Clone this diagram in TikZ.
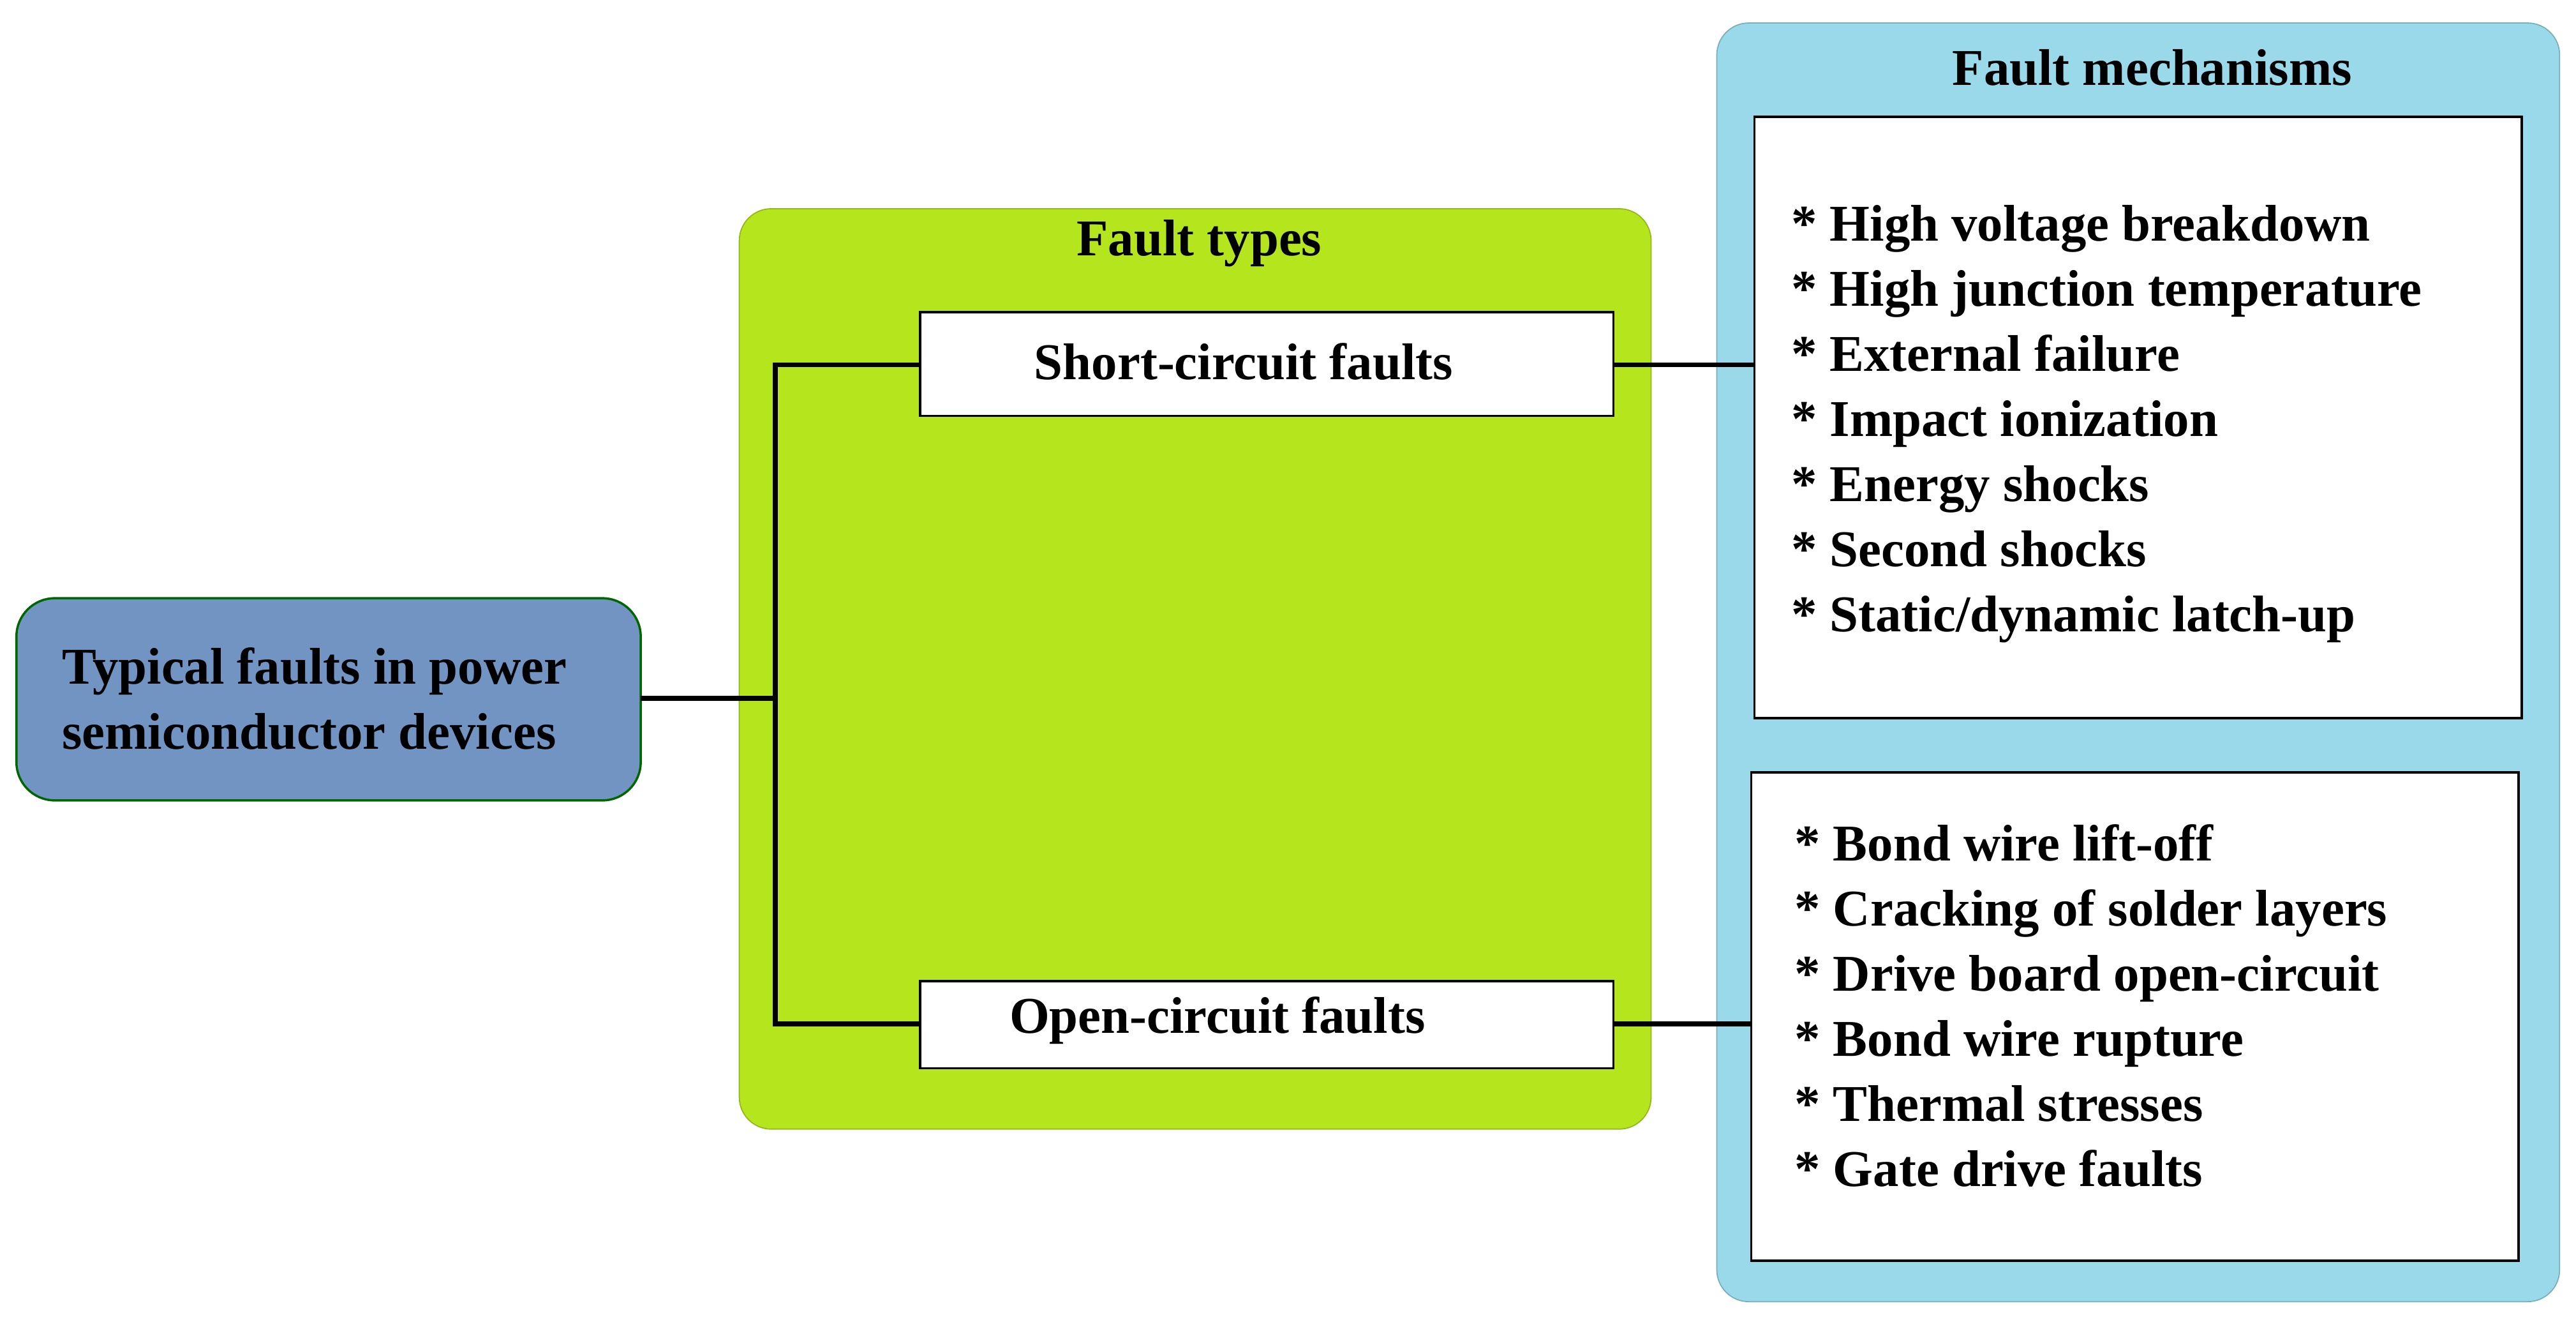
\documentclass[tikz,border=0pt]{standalone}
\usepackage{fontspec}
\setmainfont{Liberation Serif}
\usetikzlibrary{positioning}
\definecolor{rootblue}{HTML}{7194C2}
\definecolor{typegreen}{HTML}{B5E61D}
\definecolor{mechblue}{HTML}{99D9EA}
\begin{document}
\begin{tikzpicture}[x=0.02575cm,y=-0.02575cm,
  font=\fontsize{23}{29}\selectfont\bfseries,
  panel/.style={rounded corners=0.5cm, draw=#1!80!black, fill=#1, line width=0.5pt},
  fbox/.style={draw=black, fill=white, line width=1pt},
  wire/.style={line width=2.2pt}]
  \useasboundingbox (0,0) rectangle (1568,804);
  % panels
  \draw[panel=typegreen] (450,127) rectangle (1005,687);
  \draw[panel=mechblue] (1045,14) rectangle (1558,792);
  \node at (730,148) {Fault types};
  \node at (1310,41) {Fault mechanisms};
  % root
  \draw[rounded corners=0.6cm, draw=green!40!black, fill=rootblue, line width=1pt] (10,364) rectangle (390,487);
  \node[anchor=west, align=left] (root) at (33,425) {Typical faults in power\\semiconductor devices};
  \coordinate (rootr) at (390,425);
  % fault types
  \draw[fbox] (560,190) rectangle (982,253);
  \draw[fbox] (560,597) rectangle (982,650);
  \node (sc) at (757,220) {Short-circuit faults};
  \node (oc) at (741,621) {Open-circuit faults};
  \coordinate (scl) at (560,222); \coordinate (scr) at (982,222);
  \coordinate (ocl) at (560,623); \coordinate (ocr) at (982,623);
  % mechanisms
  \draw[fbox] (1068,71) rectangle (1535,437);
  \draw[fbox] (1066,470) rectangle (1533,767);
  \coordinate (mupl) at (1068,222);
  \coordinate (mlol) at (1066,623);
  \node[anchor=west, align=left, inner sep=0pt] (mup) at (1090,258) {%
    * High voltage breakdown\\* High junction temperature\\* External failure\\%
    * Impact ionization\\* Energy shocks\\* Second shocks\\* Static/dynamic latch-up};
  \node[anchor=west, align=left, inner sep=0pt] (mlo) at (1092,612) {%
    * Bond wire lift-off\\* Cracking of solder layers\\* Drive board open-circuit\\%
    * Bond wire rupture\\* Thermal stresses\\* Gate drive faults};
  % connectors
  \draw[wire] (rootr) -- (472,425);
  \draw[wire] (scl) -| (472,623) -- (ocl);
  \draw[wire] (scr) -- (mupl);
  \draw[wire] (ocr) -- (mlol);
\end{tikzpicture}
\end{document}
